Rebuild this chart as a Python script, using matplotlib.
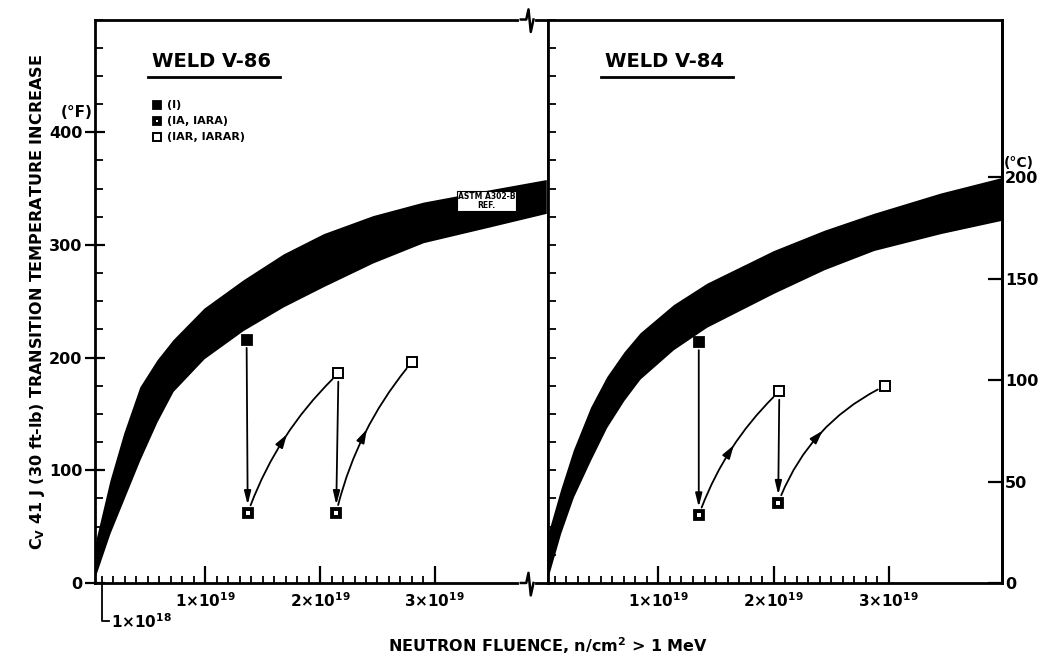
import numpy as np
import matplotlib.pyplot as plt
from matplotlib.ticker import MultipleLocator, FixedLocator

plt.rcParams['font.family'] = 'DejaVu Sans'
plt.rcParams['font.weight'] = 'bold'

# ASTM A302-B reference band
# fluence in units of 1e19 n/cm2, temperature increase in deg F
fluence_86 = [0.04, 0.17, 0.29, 0.43, 0.58, 0.72, 0.99, 1.33, 1.68, 2.03, 2.46, 2.90, 3.48, 3.97]
upper_86 = [35, 91, 133, 174, 198, 216, 244, 269, 292, 310, 326, 338, 349, 358]
lower_86 = [5, 44, 74, 109, 143, 170, 199, 224, 245, 263, 284, 302, 316, 328]

fluence_84 = [0.04, 0.15, 0.26, 0.41, 0.55, 0.70, 0.84, 1.13, 1.42, 2.00, 2.44, 2.87, 3.45, 3.99]
upper_84 = [44, 83, 118, 156, 183, 205, 222, 247, 266, 295, 313, 328, 346, 360]
lower_84 = [5, 44, 76, 109, 138, 162, 181, 207, 227, 257, 278, 295, 310, 322]

# specimen sequence I -> IA -> IAR -> IARA -> IARAR
cond = ['I', 'IA', 'IAR', 'IA', 'IAR']
seq_x_86 = [1.36, 1.37, 2.16, 2.14, 2.80]
seq_y_86 = [216, 62, 186, 62, 196]
seq_x_84 = [1.35, 1.35, 2.05, 2.04, 2.97]
seq_y_84 = [214, 60, 170, 71, 175]

legend_labels = ['(I)', '(IA, IARA)', '(IAR, IARAR)']
f_ticks = [1, 2, 3]
f_tick_labels = [r'1$\times$10$^{19}$', r'2$\times$10$^{19}$', r'3$\times$10$^{19}$']
F_ticks = [0, 100, 200, 300, 400]
C_ticks = [0, 50, 100, 150, 200]

fig = plt.figure(figsize=(10.43, 6.64), dpi=100)
ax1 = fig.add_axes([0.0911, 0.1220, 0.4343, 0.8486])
ax2 = fig.add_axes([0.5254, 0.1220, 0.4353, 0.8486])


def marker(ax, x, y, kind, transform=None, ms=7.5):
    kw = dict(transform=transform) if transform is not None else {}
    if kind == 'I':
        ax.plot(x, y, 's', ms=ms, mfc='k', mec='k', mew=1.3, clip_on=False, zorder=5, **kw)
    elif kind == 'IA':
        ax.plot(x, y, 's', ms=ms, mfc='k', mec='k', mew=1.3, clip_on=False, zorder=5, **kw)
        ax.plot(x, y, 's', ms=ms * 0.3, mfc='w', mec='w', mew=0, clip_on=False, zorder=6, **kw)
    else:
        ax.plot(x, y, 's', ms=ms, mfc='w', mec='k', mew=1.4, clip_on=False, zorder=5, **kw)


def straight_arrow(ax, p0, p1):
    ax.annotate('', xy=p1, xytext=p0,
                arrowprops=dict(arrowstyle='-|>,head_length=0.8,head_width=0.2',
                                lw=1.3, color='k', shrinkA=6, shrinkB=6))


def curved_arrow(ax, p0, p1, rad):
    ax.annotate('', xy=p1, xytext=p0,
                arrowprops=dict(arrowstyle='-', connectionstyle=f'arc3,rad={rad}',
                                lw=1.3, color='k', shrinkA=6, shrinkB=6))
    a = ax.transData.transform(p0)
    b = ax.transData.transform(p1)
    d = b - a
    mid = (a + b) / 2 + 0.5 * rad * np.array([d[1], -d[0]])
    u = d / np.hypot(*d)
    inv = ax.transData.inverted()
    ax.annotate('', xy=inv.transform(mid + 4 * u), xytext=inv.transform(mid - 6 * u),
                arrowprops=dict(arrowstyle='-|>,head_length=0.8,head_width=0.25',
                                lw=1.3, color='k', shrinkA=0, shrinkB=0))


def panel(ax, fl, up, lo, sx, sy, title, rads):
    ax.fill_between(fl, lo, up, color='k', lw=0, zorder=2)
    ax.set_xlim(0.04, 3.985)
    ax.set_ylim(0, 500)
    for s in ax.spines.values():
        s.set_linewidth(2.0)
    ax.set_xticks(f_ticks)
    ax.set_xticklabels(f_tick_labels, fontsize=11)
    ax.xaxis.set_minor_locator(FixedLocator(np.round(np.arange(0.1, 3.05, 0.1), 1)))
    ax.tick_params(axis='x', which='major', direction='in', length=12, width=1.6, pad=6)
    ax.tick_params(axis='x', which='minor', direction='in', length=5, width=1.3)
    ax.yaxis.set_minor_locator(MultipleLocator(25))

    ax.text(0.126, 0.925, title, transform=ax.transAxes, fontsize=14,
            va='center', ha='left')
    ax.plot([0.117, 0.408], [0.898, 0.898], transform=ax.transAxes, color='k', lw=2)

    for i in range(len(sx) - 1):
        p0 = (sx[i], sy[i])
        p1 = (sx[i + 1], sy[i + 1])
        if i % 2 == 0:
            straight_arrow(ax, p0, p1)
        else:
            curved_arrow(ax, p0, p1, rads[i // 2])
    for x, y, k in zip(sx, sy, cond):
        marker(ax, x, y, k)


panel(ax1, fluence_86, upper_86, lower_86, seq_x_86, seq_y_86, 'WELD V-86', [-0.12, -0.12])
panel(ax2, fluence_84, upper_84, lower_84, seq_x_84, seq_y_84, 'WELD V-84', [-0.12, -0.2])

# left temperature axis (deg F)
ax1.set_yticks(F_ticks)
ax1.set_yticklabels([str(t) for t in F_ticks], fontsize=11.5)
ax1.tick_params(axis='y', which='major', direction='inout', length=14, width=1.6, pad=2)
ax1.tick_params(axis='y', which='minor', direction='in', length=6, width=1.3)
ax1.text(-0.005, 0.835, '(°F)', transform=ax1.transAxes, ha='right', va='center', fontsize=11)

# right panel: inner ticks only on the left, deg C on the right
ax2.set_yticks(F_ticks)
ax2.tick_params(axis='y', which='both', direction='in', length=6, width=1.3, labelleft=False)
sec = ax2.secondary_yaxis('right', functions=(lambda f: f / 1.8, lambda c: c * 1.8))
sec.set_yticks(C_ticks)
sec.set_yticklabels([str(c) for c in C_ticks], fontsize=11.5)
sec.tick_params(direction='in', length=10, width=1.6, pad=2)
sec.spines['right'].set_linewidth(2.0)
ax2.text(1.003, 0.745, '(°C)', transform=ax2.transAxes, ha='left', va='center', fontsize=10)

# reference band label
ax1.text(3.45, 339, 'ASTM A302-B\nREF.', fontsize=5.5, ha='center', va='center',
         color='k', linespacing=0.9, zorder=6,
         bbox=dict(boxstyle='square,pad=0.15', fc='w', ec='k', lw=0.8))

# 1x10^18 pointer under the first tick
ax1.plot([0.1, 0.1, 0.16], [0, -0.068, -0.068], color='k', lw=1.3,
         transform=ax1.get_xaxis_transform(), clip_on=False)
ax1.text(0.18, -0.068, r'1$\times$10$^{18}$', transform=ax1.get_xaxis_transform(),
         fontsize=11, ha='left', va='center')

# break marks on the top and bottom borders
for yb in (1.0, 0.0):
    ax1.plot([0.94, 0.968], [yb, yb], transform=ax1.transAxes, color='w', lw=3,
             clip_on=False, zorder=7)
    ax1.plot([0.94, 0.952, 0.957, 0.962, 0.968], [yb, yb, yb + 0.018, yb - 0.022, yb],
             transform=ax1.transAxes, color='k', lw=1.8, clip_on=False, zorder=8)

# legend
leg_y = [0.848, 0.820, 0.791]
for k, lab, yy in zip(['I', 'IA', 'IAR'], legend_labels, leg_y):
    marker(ax1, 0.137, yy, k, transform=ax1.transAxes, ms=6)
    ax1.text(0.16, yy, lab, transform=ax1.transAxes, fontsize=8, va='center', ha='left')

fig.text(0.036, 0.545, r'C$_\mathbf{V}$ 41 J (30 ft-lb) TRANSITION TEMPERATURE INCREASE',
         rotation=90, ha='center', va='center', fontsize=11.5)
fig.text(0.525, 0.028, r'NEUTRON FLUENCE, n/cm$^\mathbf{2}$ > 1 MeV',
         ha='center', va='center', fontsize=11.5)

fig.savefig('out.png', dpi=100, facecolor='white')
